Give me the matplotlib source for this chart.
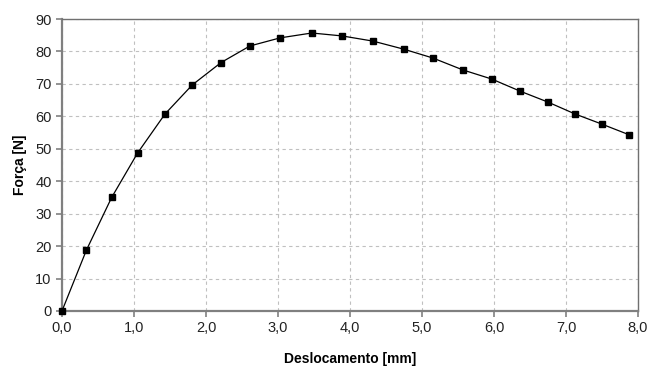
import matplotlib
matplotlib.use("Agg")
import matplotlib.pyplot as plt

# ---------------- dados ----------------
deslocamento = [0.0, 0.34, 0.69, 1.05, 1.43, 1.81, 2.21, 2.61, 3.03, 3.47,
                3.89, 4.32, 4.75, 5.15, 5.57, 5.97, 6.36, 6.75, 7.13, 7.50, 7.88]
forca = [0.0, 18.8, 35.0, 48.7, 60.7, 69.7, 76.6, 81.7, 84.2, 85.7,
         84.8, 83.2, 80.7, 78.0, 74.3, 71.5, 67.8, 64.4, 60.7, 57.6, 54.3]

x_ticks = [0, 1, 2, 3, 4, 5, 6, 7, 8]
x_ticklabels = ["0,0", "1,0", "2,0", "3,0", "4,0", "5,0", "6,0", "7,0", "8,0"]
y_ticks = [0, 10, 20, 30, 40, 50, 60, 70, 80, 90]

plt.rcParams["font.family"] = ["Liberation Sans", "DejaVu Sans"]

fig = plt.figure(figsize=(6.49, 3.70), dpi=100)
ax = fig.add_axes([0.0955, 0.1595, 0.8875, 0.789])

ax.plot(deslocamento, forca, color="black", lw=0.9, marker="s", ms=5,
        mfc="black", mec="black", clip_on=False, zorder=5)

ax.set_xlim(0, 8)
ax.set_ylim(0, 90)
ax.set_xticks(x_ticks)
ax.set_xticklabels(x_ticklabels)
ax.set_yticks(y_ticks)
ax.tick_params(axis="both", labelsize=10.5, colors="#808080", labelcolor="#222222",
               length=4, width=1.2, direction="out")

ax.grid(True, color="#c0c0c0", linestyle=(0, (3, 3)), lw=0.8)
ax.set_axisbelow(True)

for side in ["left", "bottom"]:
    ax.spines[side].set_color("#808080")
    ax.spines[side].set_linewidth(1.6)
for side in ["top", "right"]:
    ax.spines[side].set_color("#707070")
    ax.spines[side].set_linewidth(1.0)

ax.set_xlabel("Deslocamento [mm]", fontsize=10, fontweight="bold", labelpad=12)
ax.set_ylabel("Força [N]", fontsize=10, fontweight="bold", labelpad=6)

fig.savefig("out.png", dpi=100)
